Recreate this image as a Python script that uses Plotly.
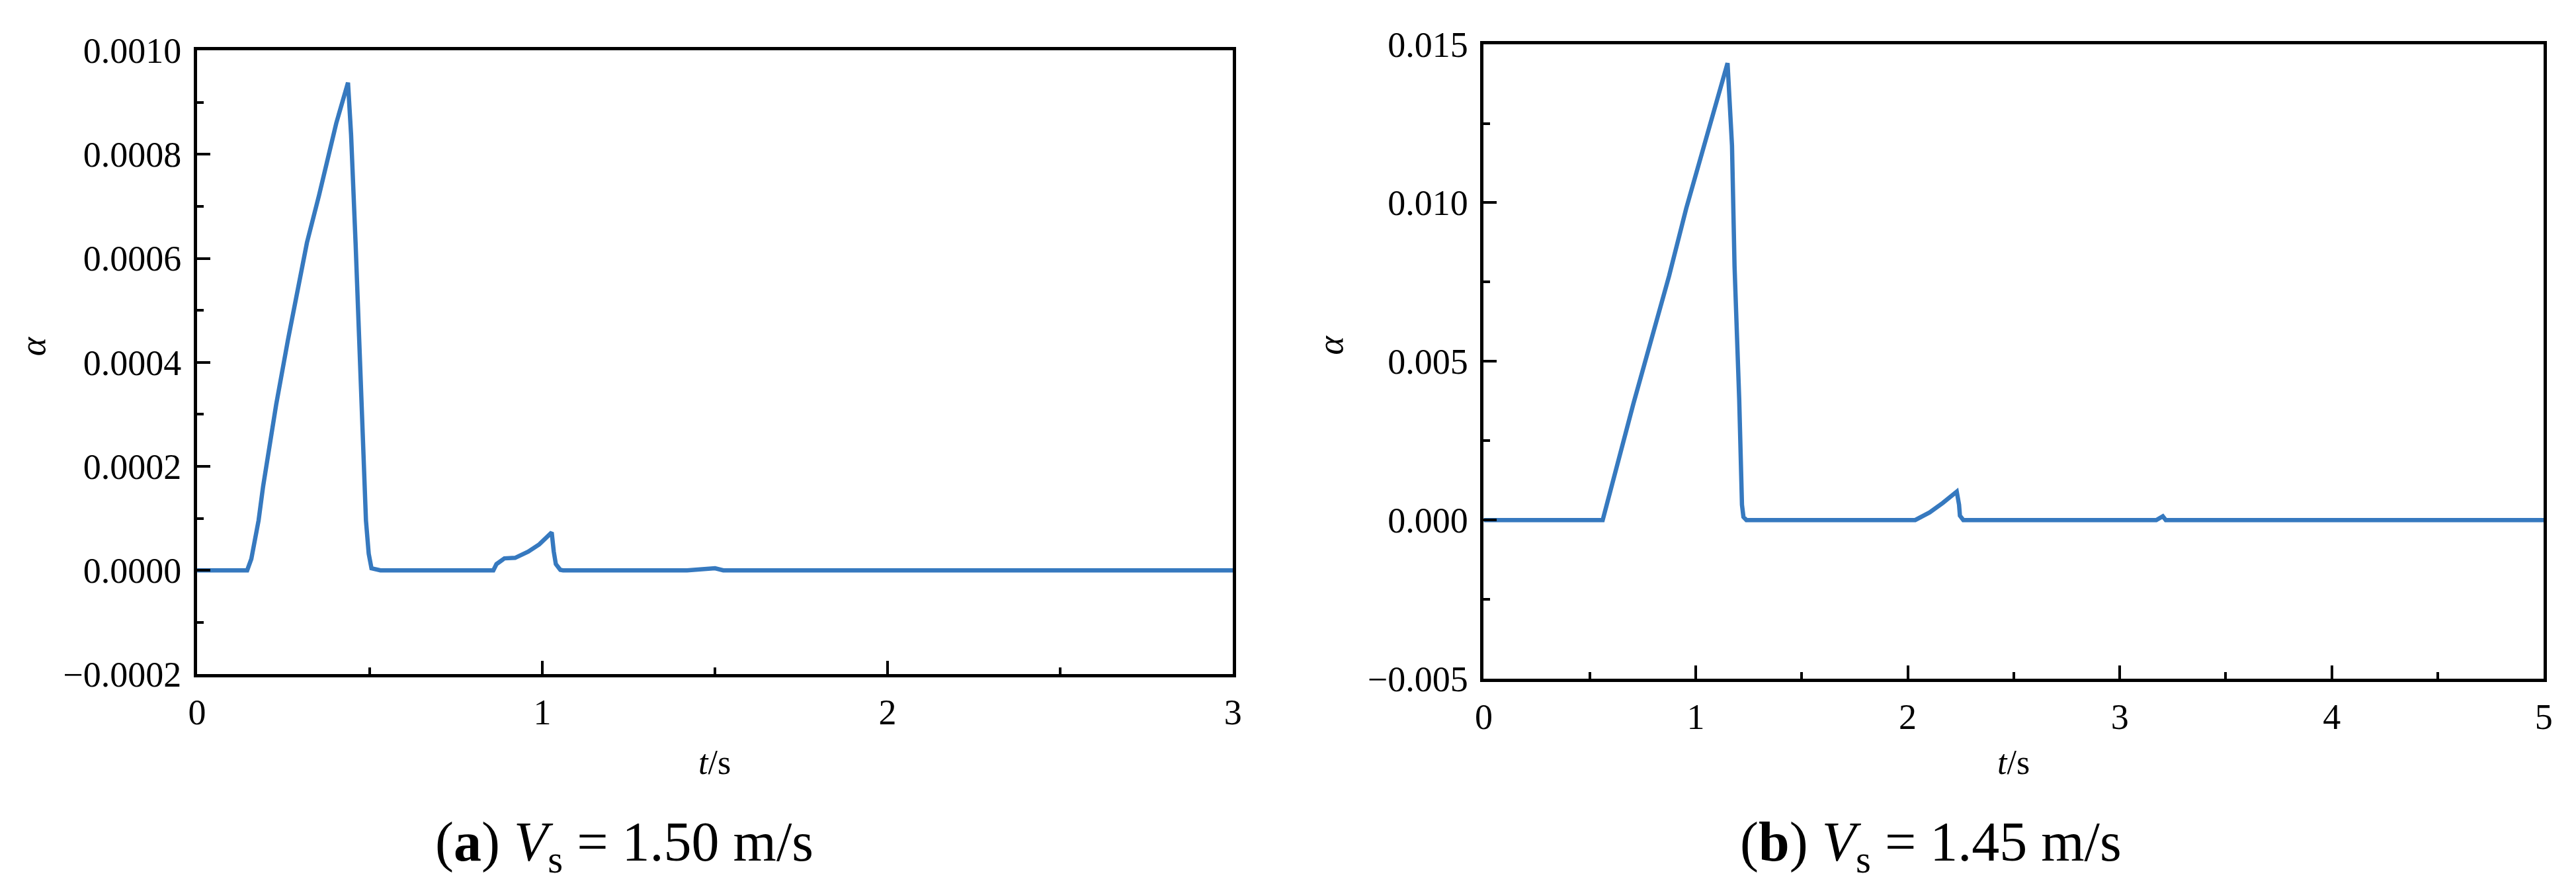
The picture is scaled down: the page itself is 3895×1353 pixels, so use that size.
import plotly.graph_objects as go

# (a) Vs = 1.50 m/s
t_a = [0, 0.145, 0.157, 0.178, 0.191, 0.204, 0.217, 0.229, 0.263, 0.289, 0.318,
       0.353, 0.403, 0.437, 0.446, 0.459, 0.471, 0.476, 0.480, 0.489, 0.497,
       0.505, 0.531, 0.858, 0.867, 0.890, 0.921, 0.959, 0.991, 1.016, 1.027,
       1.033, 1.039, 1.052, 1.06, 1.419, 1.50, 1.524, 3.0]
alpha_a = [0, 0, 2.2e-5, 9.6e-5, 1.61e-4, 2.17e-4, 2.73e-4, 3.19e-4, 4.43e-4,
           5.36e-4, 6.3e-4, 7.21e-4, 8.6e-4, 9.38e-4, 8.37e-4, 6.29e-4,
           3.96e-4, 3.19e-4, 2.12e-4, 9.6e-5, 3.2e-5, 4e-6, 0, 0, 1.2e-5,
           2.3e-5, 2.4e-5, 3.6e-5, 5.0e-5, 6.7e-5, 7.3e-5, 3.6e-5, 1.2e-5,
           1e-6, 0, 0, 4e-6, 0, 0]

# (b) Vs = 1.45 m/s
t_b = [0, 0.561, 0.706, 0.874, 0.955, 1.038, 1.150, 1.171, 1.183, 1.205,
       1.211, 1.218, 1.225, 1.239, 2.035, 2.103, 2.165, 2.206, 2.231, 2.242,
       2.246, 2.262, 3.172, 3.203, 3.217, 5.0]
alpha_b = [0, 0, 3.67e-3, 7.69e-3, 9.82e-3, 1.181e-2, 1.44e-2, 1.18e-2,
           7.99e-3, 3.8e-3, 2.33e-3, 4.8e-4, 1e-4, 0, 0, 2.4e-4, 5.4e-4,
           7.4e-4, 8.96e-4, 4.8e-4, 1.4e-4, 0, 0, 1.2e-4, 0, 0]

captions = ["(<b>a</b>) <i>V</i><sub>s</sub> = 1.50 m/s",
            "(<b>b</b>) <i>V</i><sub>s</sub> = 1.45 m/s"]

line_col = "#3679BF"
font_fam = "Liberation Serif"

fig = go.Figure()
fig.add_trace(go.Scatter(x=t_a, y=alpha_a, mode="lines", xaxis="x", yaxis="y",
                         line=dict(color=line_col, width=6.5), showlegend=False))
fig.add_trace(go.Scatter(x=t_b, y=alpha_b, mode="lines", xaxis="x2", yaxis="y2",
                         line=dict(color=line_col, width=6.5), showlegend=False))

ax_common = dict(showgrid=False, zeroline=False, showline=True, linecolor="black",
                 linewidth=5, mirror=True, ticks="inside", ticklen=20,
                 tickwidth=3.5, tickcolor="black",
                 tickfont=dict(family=font_fam, size=54, color="black"))
minor_common = dict(ticks="inside", ticklen=10, tickwidth=3.5, tickcolor="black")

fig.update_layout(
    width=3895, height=1353,
    margin=dict(l=0, r=0, t=0, b=0),
    paper_bgcolor="white", plot_bgcolor="white",
    font=dict(family=font_fam, color="black"),
    xaxis=dict(domain=[0.07163, 0.47651], range=[0, 3], dtick=1, anchor="y",
               ticklabelstandoff=6, minor=dict(dtick=0.5, **minor_common),
               **ax_common),
    yaxis=dict(domain=[0.24021, 0.96970], range=[-0.0002, 0.001], dtick=0.0002,
               tickformat=".4f", anchor="x", ticklabelstandoff=8,
               minor=dict(dtick=0.0001, **minor_common), **ax_common),
    xaxis2=dict(domain=[0.57458, 0.98896], range=[0, 5], dtick=1, anchor="y2",
                ticklabelstandoff=6, minor=dict(dtick=0.5, **minor_common),
                **ax_common),
    yaxis2=dict(domain=[0.23503, 0.97709], range=[-0.005, 0.015], dtick=0.005,
                tickformat=".3f", anchor="x2", ticklabelstandoff=8,
                minor=dict(dtick=0.0025, **minor_common), **ax_common),
)

ann = []
# y titles
for xp, yp in [(30 / 3895, 0.6238), (2005 / 3895, 0.6253)]:
    ann.append(dict(x=xp, y=yp, xref="paper", yref="paper", text="<i>α</i>",
                    textangle=-90, showarrow=False, xanchor="center",
                    yanchor="middle", font=dict(size=54)))
# x titles
for xp in [1067 / 3895, 3045 / 3895]:
    ann.append(dict(x=xp, y=1 - 1167 / 1353, xref="paper", yref="paper",
                    text="<i>t</i>/s", showarrow=False, xanchor="center",
                    yanchor="middle", font=dict(size=52)))
# captions
for xp, txt in zip([929 / 3895, 2919 / 3895], captions):
    ann.append(dict(x=xp, y=1 - 1300 / 1353, xref="paper", yref="paper", text=txt,
                    showarrow=False, xanchor="center", yanchor="middle",
                    font=dict(size=84)))
fig.update_layout(annotations=ann)

fig.write_html("out.html")
